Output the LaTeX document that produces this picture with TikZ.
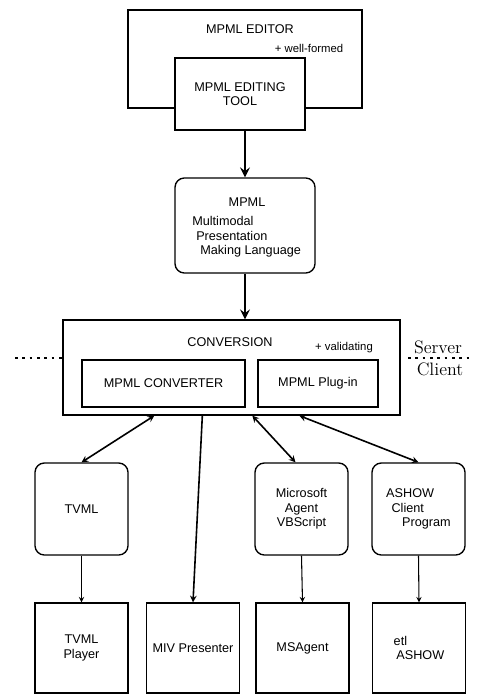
\documentclass[tikz,border=0pt]{standalone}
\usepackage{fontspec}
\setsansfont{Liberation Sans}
\usepackage{tikz}
\usetikzlibrary{positioning,arrows,calc}
\tikzstyle{bx}=[%
      rectangle, draw=black, line width=1pt, fill=white,
      inner sep=2pt, align=center, font=\sffamily\fontsize{9.5}{11}\selectfont
]
\tikzstyle{rbx}=[%
      bx, rounded corners=7pt
]
\tikzstyle{tx}=[%
      inner sep=0pt, align=left, font=\sffamily\fontsize{9.5}{11}\selectfont
]
\tikzstyle{srv}=[%
      inner sep=0pt, font=\rmfamily\fontsize{13.5}{15}\selectfont
]
\tikzstyle{ln}=[->, line width=1.2pt]
\tikzstyle{fat}=[->, line width=2.2pt]
\tikzstyle{dotline}=[line width=2pt, dash pattern=on 2pt off 3.5pt]

\begin{document}
\begin{tikzpicture}[x=0.75pt, y=-0.75pt,
    >=stealth
  ]
    \useasboundingbox (0,0) rectangle (476,695);

    % editor
    \node[bx, minimum width=175.5pt, minimum height=73.5pt] (editor) at (245,59) {};
    \node[tx] (editortxt) at (250,29) {MPML EDITOR};
    \node[tx, font=\sffamily\fontsize{8.5}{10}\selectfont] (wellformed) at (309,48) {+ well-formed};
    \node[bx, minimum width=97.5pt, minimum height=54pt] (tool) at (240,94) {MPML EDITING\\TOOL};

    % language
    \node[rbx, minimum width=105pt, minimum height=71.25pt] (mpml) at (245,225.5) {};
    \node[tx] (mpmltitle) at (247,202) {MPML};
    \node[tx, anchor=north west] (mpmlbody) at (192,216) {Multimodal\\\hspace*{3pt}Presentation\\\hspace*{6pt}Making Language};

    % conversion
    \node[bx, minimum width=252.75pt, minimum height=71.25pt] (conv) at (231.5,367.5) {};
    \node[tx] (convtxt) at (230,342) {CONVERSION};
    \node[tx, font=\sffamily\fontsize{8.5}{10}\selectfont] (validating) at (344,348) {+ validating};
    \node[bx, minimum width=122.25pt, minimum height=35.25pt] (converter) at (163.5,383.5) {MPML CONVERTER};
    \node[bx, minimum width=90pt, minimum height=35.25pt] (plugin) at (318,383.5) {MPML Plug-in};

    % server / client
    \coordinate (sleft) at (15,358);
    \coordinate (sright) at (472,358);
    \coordinate (srightin) at (408,358);
    \draw[dotline] (sleft) -- (sleft -| conv.west);
    \draw[dotline] (srightin) -- (sright);
    \node[srv, anchor=south] (server) at (438,354) {Server};
    \node[srv, anchor=north] (client) at (440,363) {Client};

    % scripts
    \node[rbx, minimum width=69.75pt, minimum height=69pt] (tvml) at (81.5,509) {TVML};
    \node[rbx, minimum width=69.75pt, minimum height=69pt] (msagentvb) at (301.5,509) {Microsoft\\Agent\\VBScript};
    \node[rbx, minimum width=69.75pt, minimum height=69pt, align=left] (ashowclient) at (418.5,509) {ASHOW\\\hspace*{4pt}Client\\\hspace*{12pt}Program};

    % players
    \node[bx, minimum width=69.75pt, minimum height=67.5pt] (tvmlplayer) at (81.5,648) {TVML\\Player};
    \node[bx, minimum width=69.75pt, minimum height=67.5pt] (miv) at (193,648) {MIV Presenter};
    \node[bx, minimum width=69.75pt, minimum height=67.5pt] (msagent) at (302.5,648) {MSAgent};
    \node[bx, minimum width=69.75pt, minimum height=67.5pt, align=left] (etlashow) at (419,648) {etl\\\hspace*{2pt}ASHOW};

    \draw[fat] (mpml.north |- tool.south) -- (mpml.north);
    \draw[fat] (mpml.south) -- (mpml.south |- conv.north);
    \draw[ln, <->] ($(conv.south west)+(92,0)$) -- (tvml.north);
    \draw[ln] ($(conv.south west)+(140,0)$) -- (miv.north);
    \draw[ln, <->] ($(conv.south west)+(190,0)$) -- ($(msagentvb.north)+(-6,0)$);
    \draw[ln, <->] ($(conv.south west)+(237,0)$) -- (ashowclient.north);
    \foreach \a/\b in {tvml/tvmlplayer, msagentvb/msagent, ashowclient/etlashow}
      \draw[ln, line width=0.8pt] (\a.south) -- (\b.north);
  \end{tikzpicture}
\end{document}
